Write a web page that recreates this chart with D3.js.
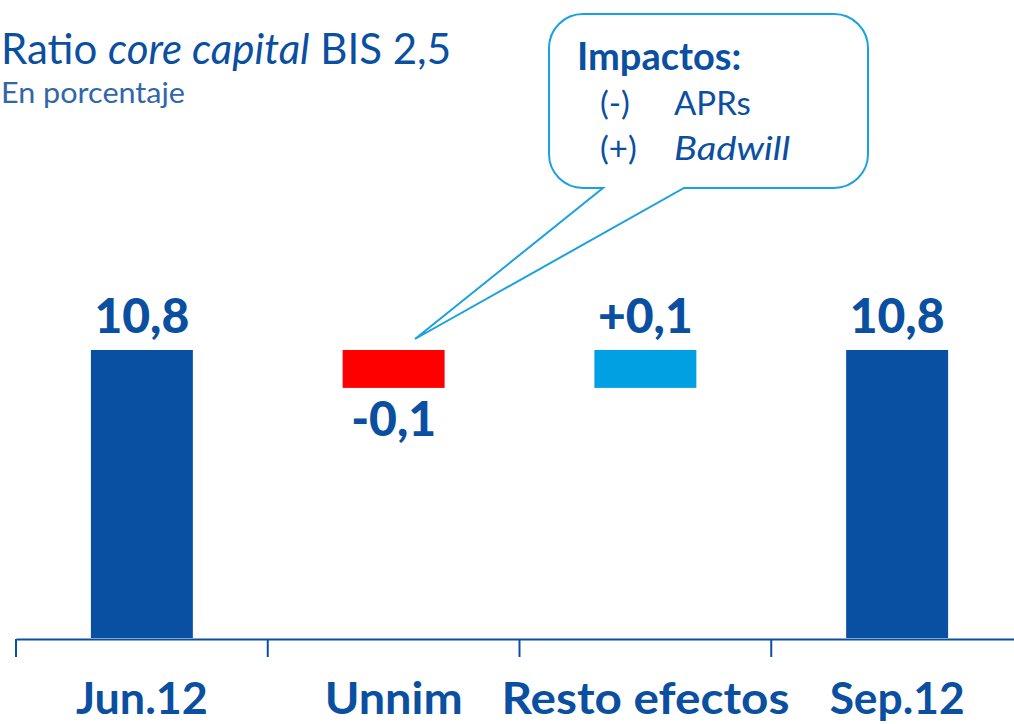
<!DOCTYPE html>
<html lang="es">
<head>
<meta charset="UTF-8">
<title>Ratio core capital</title>
<style>
body{margin:0;background:#fff}
text{font-family:Lato,"Open Sans",sans-serif}
</style>
</head>
<body>
<svg id="ss" width="1014" height="724"></svg>
<script src="https://cdn.jsdelivr.net/npm/d3@7"></script>
<script>
var categories=['Jun.12','Unnim','Resto efectos','Sep.12']
var values=[10.8,-0.1,0.1,10.8]
var kinds=['total','delta','delta','total']
var labels=['10,8','-0,1','+0,1','10,8']

var width=1014,height=724
var blue='#0a50a2',red='#ff0000',cyan='#00a0e3',txt='#0b4fa0'
var svg=d3.select('svg')

// waterfall steps
var acc=0
var data=categories.map(function(c,i){
  var v=values[i],d
  if(kinds[i]=='total'){d={name:c,y0:null,y1:v}; acc=v}
  else{d={name:c,y0:acc,y1:acc+v}; acc=acc+v}
  d.value=v; d.kind=kinds[i]; d.label=labels[i]
  return d
})

var x=d3.scaleBand().domain(categories).range([16,1023]).padding(0)
// axis is cut: bars start at 10.04 not at 0
var y=d3.scaleLinear().domain([10.04,10.8]).range([638,350])
var bw=x.bandwidth()*0.405

var color=function(d){return d.kind=='total'?blue:(d.value<0?red:cyan)}

svg.selectAll('rect.bar').data(data).enter().append('rect').attr('class','bar')
  .attr('x',d=>x(d.name)+x.bandwidth()/2-bw/2)
  .attr('width',bw)
  .attr('y',d=>d.kind=='total'?y(d.y1):y(Math.max(d.y0,d.y1)))
  .attr('height',d=>d.kind=='total'?y.range()[0]-y(d.y1):Math.abs(y(d.y0)-y(d.y1)))
  .attr('fill',color)

// value labels
svg.selectAll('text.val').data(data).enter().append('text').attr('class','val')
  .attr('x',d=>x(d.name)+x.bandwidth()/2)
  .attr('y',function(d){
    if(d.value<0) return y(Math.min(d.y0,d.y1))+48
    return y(d.kind=='total'?d.y1:Math.max(d.y0,d.y1))-17
  })
  .attr('text-anchor','middle').attr('font-size',48).attr('font-weight',900).attr('fill',txt)
  .text(d=>d.label)

// x axis
var xAxis=g=>g.attr('transform','translate(0,639)')
  .call(d3.axisBottom(x).tickSize(0).tickFormat(''))
svg.append('g').call(xAxis).call(g=>g.select('.domain').attr('stroke',blue).attr('stroke-width',2))
var tx=categories.map(c=>x(c)).concat([x.range()[1]])
svg.selectAll('line.tk').data(tx).enter().append('line').attr('class','tk')
  .attr('x1',d=>d).attr('x2',d=>d).attr('y1',639).attr('y2',657)
  .attr('stroke',blue).attr('stroke-width',2)
var widths=[132,138,288,135]
svg.selectAll('text.cat').data(categories).enter().append('text').attr('class','cat')
  .attr('x',d=>x(d)+x.bandwidth()/2).attr('y',714)
  .attr('text-anchor','middle').attr('font-size',44).attr('font-weight','bold').attr('fill',txt)
  .attr('textLength',(d,i)=>widths[i]).attr('lengthAdjust','spacingAndGlyphs')
  .text(d=>d)

// title
var t=svg.append('text').attr('x',1).attr('y',64).attr('font-size',42).attr('fill',txt)
t.append('tspan').text('Ratio ')
t.append('tspan').attr('font-style','italic').text('core capital')
t.append('tspan').text(' BIS 2,5')
svg.append('text').attr('x',1).attr('y',103).attr('font-size',29).attr('fill','#3166a9')
  .attr('textLength',184).attr('lengthAdjust','spacingAndGlyphs').text('En porcentaje')

// callout bubble
var bx0=549,bx1=868,by0=14,by1=188,r=34
var tip=[415,339],ta=603,tb=684
var p=d3.path()
p.moveTo(bx0+r,by0)
p.lineTo(bx1-r,by0); p.arcTo(bx1,by0,bx1,by0+r,r)
p.lineTo(bx1,by1-r); p.arcTo(bx1,by1,bx1-r,by1,r)
p.lineTo(tb,by1); p.lineTo(tip[0],tip[1]); p.lineTo(ta,by1)
p.lineTo(bx0+r,by1); p.arcTo(bx0,by1,bx0,by1-r,r)
p.lineTo(bx0,by0+r); p.arcTo(bx0,by0,bx0+r,by0,r)
p.closePath()
svg.append('path').attr('d',p.toString()).attr('fill','#fff').attr('stroke','#1aa2e0').attr('stroke-width',2)

svg.append('text').attr('x',577).attr('y',70).attr('font-size',38).attr('font-weight','bold').attr('fill',txt).text('Impactos:')
svg.append('text').attr('x',600).attr('y',115).attr('font-size',33).attr('fill',txt).text('(-)')
svg.append('text').attr('x',674).attr('y',115).attr('font-size',33).attr('fill',txt).text('APRs')
svg.append('text').attr('x',600).attr('y',160).attr('font-size',33).attr('fill',txt).text('(+)')
svg.append('text').attr('x',674).attr('y',160).attr('font-size',33).attr('font-style','italic').attr('fill',txt)
  .attr('textLength',116).attr('lengthAdjust','spacingAndGlyphs').text('Badwill')
</script>
</body>
</html>
